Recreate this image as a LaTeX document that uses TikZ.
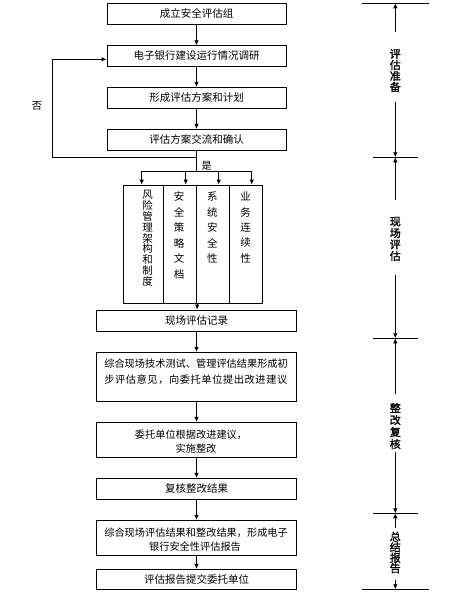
\documentclass[tikz,border=0pt]{standalone}
\usepackage{fontspec}
\setmainfont{Noto Sans CJK SC}
\newfontfamily\sidefont{Noto Sans CJK SC}[FakeBold=1.5]
\usetikzlibrary{arrows.meta}
\begin{document}
\begin{tikzpicture}[x=1pt,y=-1pt,
  box/.style={draw, line width=0.8pt, minimum width=179pt, inner sep=0pt, font=\fontsize{10.5}{12}\selectfont},
  wbox/.style={box, minimum width=199.6pt},
  txt/.style={inner sep=0pt, font=\fontsize{10.2}{12}\selectfont},
  arr/.style={line width=0.8pt, -{Latex[length=5pt,width=4.5pt]}},
  ln/.style={line width=0.8pt},
  colbox/.style={draw, line width=0.8pt, inner sep=0pt, minimum height=118.3pt},
  vch/.style={inner sep=0pt, font=\fontsize{10.5}{12}\selectfont},
  side/.style={inner sep=0pt, font=\fontsize{11}{12}\sidefont},
]
\useasboundingbox (0,0) rectangle (470,598);

% top boxes
\node[box, minimum height=21pt]   (b1) at (196.5,13.8)  {成立安全评估组};
\node[box, minimum height=20.6pt] (b2) at (196.5,56)    {电子银行建设运行情况调研};
\node[box, minimum height=21pt]   (b3) at (196.5,97.8)  {形成评估方案和计划};
\node[box, minimum height=20.7pt] (b4) at (196.5,139.7) {评估方案交流和确认};

\draw[arr] (b1) -- (b2);
\draw[arr] (b2) -- (b3);
\draw[arr] (b3) -- (b4);

% feedback loop
\coordinate (j1) at (196.5,157.3);
\coordinate (j2) at (196.5,171);
\coordinate (lp) at (52.3,157.3);
\draw[ln] (b4.south) -- (j1) -- (j2);
\draw[arr] (j1) -- (lp) |- ([yshift=-3.3pt]b2.west);
\node[txt] (no) at (37,106) {否};
\node[txt] (yes) at (206.7,166) {是};

% column boxes
\node[colbox, minimum width=40pt]   (c1) at (143.3,244.15) {};
\node[colbox, minimum width=33.4pt] (c2) at (180,244.15) {};
\node[colbox, minimum width=32.6pt] (c3) at (213,244.15) {};
\node[colbox, minimum width=33pt]   (c4) at (245.8,244.15) {};

\coordinate (d1) at (141.7,171);
\coordinate (d2) at (185.7,171);
\coordinate (d3) at (218.7,171);
\coordinate (d4) at (251.7,171);
\draw[ln] (d1) -- (d4);
\draw[arr] (d1) -- (d1 |- c1.north);
\draw[arr] (d2) -- (d2 |- c2.north);
\draw[arr] (d3) -- (d3 |- c3.north);
\draw[arr] (d4) -- (d4 |- c4.north);

\foreach \ch [count=\i] in {风,险,管,理,架,构,和,制,度}
  \node[vch] (t1-\i) at (147.7,{195+10.8*(\i-1)}) {\ch};
\foreach \ch [count=\i] in {安,全,策,略,文,档}
  \node[vch] (t2-\i) at (179,{196.7+15.5*(\i-1)}) {\ch};
\foreach \ch [count=\i] in {系,统,安,全,性}
  \node[vch] (t3-\i) at (212.3,{196.7+15.4*(\i-1)}) {\ch};
\foreach \ch [count=\i] in {业,务,连,续,性}
  \node[vch] (t4-\i) at (245.7,{196.7+15.4*(\i-1)}) {\ch};

% lower boxes
\node[wbox, minimum height=21.3pt] (b5) at (196.5,320.7) {现场评估记录};
\node[wbox, minimum height=48.7pt] (b6) at (196.5,376.7) {};
\node[txt] (b6a) at (195.8,363.3) {\makebox[183pt][s]{综\hfil 合\hfil 现\hfil 场\hfil 技\hfil 术\hfil 测\hfil 试\hfil 、\hfil 管\hfil 理\hfil 评\hfil 估\hfil 结\hfil 果\hfil 形\hfil 成\hfil 初}};
\node[txt] (b6b) at (195.8,380) {\makebox[183pt][s]{步\hfil 评\hfil 估\hfil 意\hfil 见\hfil ，\hfil 向\hfil 委\hfil 托\hfil 单\hfil 位\hfil 提\hfil 出\hfil 改\hfil 进\hfil 建\hfil 议}};
\node[wbox, minimum height=35pt] (b7) at (196.5,439.8) {};
\node[txt] (b7a) at (191,434.3) {委托单位根据改进建议，};
\node[txt] (b7b) at (196,448.3) {实施整改};
\node[wbox, minimum height=21pt] (b8) at (196.5,488.8) {复核整改结果};
\node[wbox, minimum height=35pt] (b9) at (196.5,537.8) {};
\node[txt] (b9a) at (195.8,532.7) {\makebox[183pt][s]{综\hfil 合\hfil 现\hfil 场\hfil 评\hfil 估\hfil 结\hfil 果\hfil 和\hfil 整\hfil 改\hfil 结\hfil 果\hfil ，\hfil 形\hfil 成\hfil 电\hfil 子}};
\node[txt] (b9b) at (195,546.7) {银行安全性评估报告};
\node[wbox, minimum height=20pt] (b10) at (196.5,579.3) {评估报告提交委托单位};

\draw[arr] (c2.south east) -- (c2.south east |- b5.north);
\draw[arr] (b5) -- (b6);
\draw[arr] (b6) -- (b7);
\draw[arr] (b7) -- (b8);
\draw[arr] (b8) -- (b9);
\draw[arr] (b9) -- (b10);

% right-hand phase scale
\coordinate (r0) at (395.3,3.3);
\coordinate (r1) at (395.3,157.3);
\coordinate (r2) at (395.3,338.3);
\coordinate (r3) at (395.3,513.3);
\coordinate (r4) at (395.3,589.3);
\draw[ln] ([xshift=-33pt]r0) -- ([xshift=34pt]r0);
\draw[ln] ([xshift=-22pt]r1) -- ([xshift=23pt]r1);
\draw[ln] ([xshift=-22pt]r2) -- ([xshift=23pt]r2);
\draw[ln] ([xshift=-22pt]r3) -- ([xshift=23pt]r3);
\draw[ln] ([xshift=-33pt]r4) -- ([xshift=34pt]r4);

\coordinate (g1a) at (395.3,31.7);
\coordinate (g1b) at (395.3,101.7);
\coordinate (g2a) at (395.3,200);
\coordinate (g2b) at (395.3,275);
\coordinate (g3a) at (395.3,394.3);
\coordinate (g3b) at (395.3,451.7);
\coordinate (g4a) at (395.3,528);
\coordinate (g4b) at (395.3,580);
\draw[arr] (g1a) -- (r0);
\draw[arr] (g1b) -- (r1);
\draw[arr] (g2a) -- (r1);
\draw[arr] (g2b) -- (r2);
\draw[arr] (g3a) -- (r2);
\draw[arr] (g3b) -- (r3);
\draw[arr] (g4a) -- (r3);
\draw[arr] (g4b) -- (r4);

\foreach \ch [count=\i] in {评,估,准,备}
  \node[side] (s1-\i) at (395.3,{54+11*(\i-1)}) {\ch};
\foreach \ch [count=\i] in {现,场,评,估}
  \node[side] (s2-\i) at (395.3,{221.7+11.4*(\i-1)}) {\ch};
\foreach \ch [count=\i] in {整,改,复,核}
  \node[side] (s3-\i) at (395.3,{408+12*(\i-1)}) {\ch};
\foreach \ch [count=\i] in {总,结,报,告}
  \node[side] (s4-\i) at (395.3,{536.7+10.5*(\i-1)}) {\ch};
\end{tikzpicture}
\end{document}
